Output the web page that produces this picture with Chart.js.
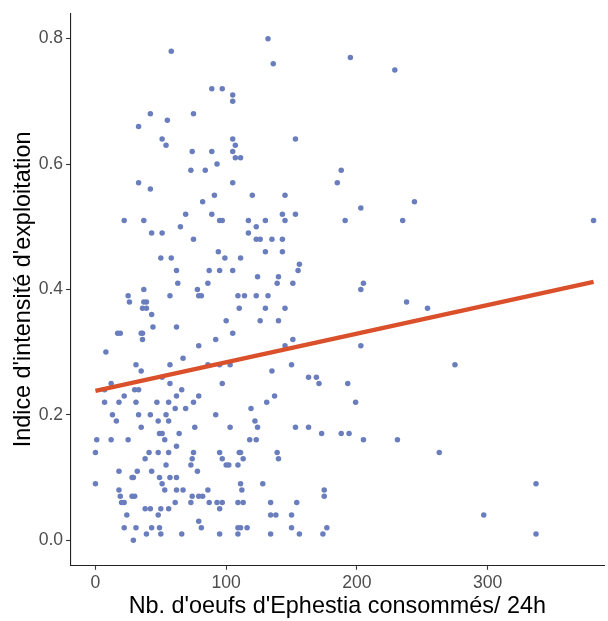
<!DOCTYPE html>
<html>
<head>
<meta charset="utf-8">
<script src="https://cdn.jsdelivr.net/npm/chart.js@4"></script>
<style>
  body { margin: 0; background: #fff; }
  canvas { display: block; }
</style>
</head>
<body>
<canvas id="chart" width="608" height="621"></canvas>
<script>
// nb. d'oeufs consommés / 24h (x) et indice d'intensité d'exploitation (y)
const eggs = [
  58, 42, 55, 33, 51, 54, 33, 42, 22, 37, 65, 43, 51, 50, 58, 62, 63, 37, 25, 57,
  26, 37, 39, 36, 39, 43, 44, 62, 17, 19, 35, 36, 36, 8, 31, 57, 35, 51, 12, 30,
  33, 57, 22, 62, 7, 18, 31, 47, 56, 61, 13, 33, 42, 54, 16, 48, 56, 35, 49, 51,
  64, 1, 12, 25, 53, 62, 0, 41, 48, 56, 38, 54, 18, 32, 43, 28, 29, 49, 57, 62,
  0, 51, 18, 53, 62, 19, 28, 30, 20, 22, 61, 38, 42, 50, 56, 24, 48, 22, 31, 43,
  49, 39, 50, 66, 29,
  132, 136, 89, 97, 105, 105, 75, 105, 107, 74, 89, 105, 107, 111, 93, 73, 84, 105, 91, 120,
  82, 69, 89, 95, 97, 117, 130, 123, 117, 75, 123, 126, 135, 94, 99, 111, 130, 87, 95, 105,
  124, 139, 86, 78, 79, 81, 109, 114, 123, 132, 110, 130, 100, 126, 105, 92, 79, 67, 86, 95,
  103, 135, 140, 140, 66, 97, 79, 75, 69, 92, 119, 137, 131, 76, 103, 122, 124, 118, 123, 75,
  95, 110, 111, 139, 74, 97, 113, 140, 73, 100, 102, 109, 78, 111, 128, 67, 86, 112, 74, 79,
  82, 73, 87, 93, 97, 109, 113, 134, 95, 134, 138, 79, 81, 109, 111, 116, 95, 109, 134,
  195, 229, 153, 188, 185, 145, 244, 143, 153, 145, 203, 191, 235, 143, 143, 156, 155, 151, 205, 203,
  238, 254, 145, 151, 145, 203, 150, 163, 169, 171, 193, 199, 153, 163, 173, 188, 194, 205, 231, 263,
  175, 175, 154, 150, 150, 156, 174, 177,
  381, 275, 337, 297, 337, 7
];
const indice = [
  0.78, 0.68, 0.67, 0.66, 0.64, 0.63, 0.57, 0.56, 0.51, 0.51, 0.50, 0.49, 0.49, 0.45, 0.45, 0.43, 0.41, 0.40, 0.39, 0.39,
  0.38, 0.38, 0.38, 0.37, 0.37, 0.36, 0.34, 0.34, 0.33, 0.33, 0.33, 0.33, 0.32, 0.30, 0.28, 0.28, 0.27, 0.26, 0.25, 0.24,
  0.24, 0.25, 0.23, 0.23, 0.22, 0.22, 0.22, 0.22, 0.22, 0.21, 0.20, 0.20, 0.20, 0.20, 0.19, 0.19, 0.19, 0.18, 0.17, 0.17,
  0.17, 0.16, 0.16, 0.16, 0.16, 0.15, 0.14, 0.14, 0.14, 0.14, 0.13, 0.12, 0.11, 0.11, 0.11, 0.10, 0.10, 0.10, 0.10, 0.10,
  0.09, 0.09, 0.08, 0.08, 0.08, 0.07, 0.07, 0.07, 0.06, 0.06, 0.06, 0.05, 0.05, 0.05, 0.05, 0.04, 0.04, 0.02, 0.02, 0.02,
  0.02, 0.01, 0.01, 0.01, 0.00,
  0.80, 0.76, 0.72, 0.72, 0.71, 0.70, 0.68, 0.64, 0.63, 0.62, 0.62, 0.62, 0.61, 0.61, 0.60, 0.59, 0.59, 0.57, 0.55, 0.55,
  0.54, 0.52, 0.52, 0.51, 0.51, 0.51, 0.51, 0.50, 0.49, 0.48, 0.48, 0.48, 0.48, 0.46, 0.45, 0.45, 0.46, 0.43, 0.43, 0.43,
  0.42, 0.41, 0.41, 0.40, 0.39, 0.39, 0.39, 0.39, 0.39, 0.39, 0.37, 0.37, 0.35, 0.35, 0.33, 0.32, 0.31, 0.29, 0.28, 0.28,
  0.28, 0.27, 0.42, 0.35, 0.24, 0.25, 0.23, 0.22, 0.21, 0.20, 0.21, 0.23, 0.22, 0.18, 0.18, 0.19, 0.18, 0.16, 0.16, 0.14,
  0.14, 0.14, 0.14, 0.14, 0.13, 0.13, 0.13, 0.13, 0.12, 0.12, 0.12, 0.12, 0.11, 0.09, 0.09, 0.08, 0.08, 0.08, 0.07, 0.07,
  0.07, 0.06, 0.06, 0.06, 0.06, 0.06, 0.06, 0.06, 0.05, 0.04, 0.04, 0.03, 0.02, 0.02, 0.02, 0.02, 0.01, 0.01, 0.01,
  0.77, 0.75, 0.64, 0.59, 0.57, 0.55, 0.54, 0.52, 0.52, 0.51, 0.53, 0.51, 0.51, 0.48, 0.46, 0.44, 0.43, 0.41, 0.41, 0.40,
  0.38, 0.37, 0.37, 0.32, 0.31, 0.31, 0.28, 0.26, 0.26, 0.25, 0.25, 0.22, 0.18, 0.18, 0.17, 0.17, 0.17, 0.16, 0.16, 0.14,
  0.08, 0.07, 0.06, 0.04, 0.02, 0.01, 0.01, 0.02,
  0.51, 0.28, 0.09, 0.04, 0.01, 0.24
];

// droite de régression
const fitX = [0, 381];
const fitY = [0.238, 0.412];

const xTicks = [0, 100, 200, 300];
const yTicks = [0, 0.2, 0.4, 0.6, 0.8];

const points = eggs.map((x, i) => ({ x: x, y: indice[i] }));
const fitLine = fitX.map((x, i) => ({ x: x, y: fitY[i] }));

const tickFont = { family: "'Liberation Sans', Arial, sans-serif", size: 17.6 };
const titleFont = { family: "'Liberation Sans', Arial, sans-serif", size: 23.4 };

new Chart(document.getElementById("chart"), {
  type: "scatter",
  data: {
    datasets: [
      {
        type: "line",
        data: fitLine,
        borderColor: "#D9502B",
        borderWidth: 4.4,
        pointRadius: 0,
        fill: false,
      },
      {
        data: points,
        backgroundColor: "#6A7EBE",
        borderWidth: 0,
        pointRadius: 2.75,
      },
    ],
  },
  options: {
    responsive: false,
    animation: false,
    layout: { padding: { top: 9.75, right: 0, left: 0, bottom: 0 } },
    plugins: {
      legend: { display: false },
      tooltip: { enabled: false },
    },
    scales: {
      x: {
        type: "linear",
        min: -19,
        max: 389,
        afterBuildTicks: (s) => { s.ticks = xTicks.map((v) => ({ value: v })); },
        afterFit: (s) => { s.height = 55.75; },
        border: { display: true, color: "#222", width: 1.1 },
        grid: { drawOnChartArea: false, tickLength: 4.5, color: "#333", tickWidth: 1.1 },
        ticks: { color: "#4D4D4D", font: tickFont, padding: 3, maxRotation: 0 },
        title: {
          display: true,
          text: "Nb. d'oeufs d'Ephestia consommés/ 24h",
          color: "#000",
          font: titleFont,
          padding: { top: 0, bottom: 0 },
        },
      },
      y: {
        type: "linear",
        min: -0.04,
        max: 0.84,
        afterBuildTicks: (s) => { s.ticks = yTicks.map((v) => ({ value: v })); },
        afterFit: (s) => { s.width = 70.6; },
        border: { display: true, color: "#222", width: 1.1 },
        grid: { drawOnChartArea: false, tickLength: 4.5, color: "#333", tickWidth: 1.1 },
        ticks: {
          color: "#4D4D4D",
          font: tickFont,
          padding: 3,
          callback: (v) => v.toFixed(1),
        },
        title: {
          display: true,
          text: "Indice d'intensité d'exploitation",
          color: "#000",
          font: titleFont,
          padding: { top: 10, bottom: 0 },
        },
      },
    },
  },
});
</script>
</body>
</html>
